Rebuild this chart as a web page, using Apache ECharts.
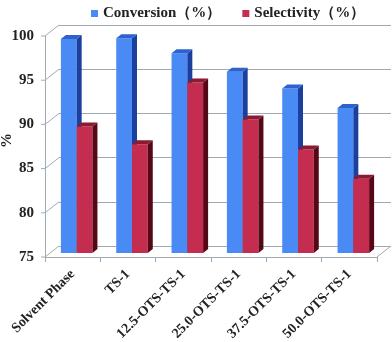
<!DOCTYPE html>
<html>
<head>
<meta charset="utf-8"/>
<title>Conversion / Selectivity</title>
<script src="https://cdn.jsdelivr.net/npm/echarts@6/dist/echarts.min.js"></script>
<style>
    html, body { margin: 0; padding: 0; background: #fff; }
    #main { width: 392px; height: 342px; }
</style>
</head>
<body>
<div id="main"></div>
<script>
    // 数据
    var categories = ['Solvent Phase', 'TS-1', '12.5-OTS-TS-1', '25.0-OTS-TS-1', '37.5-OTS-TS-1', '50.0-OTS-TS-1'];
    var conversion = [99.2, 99.3, 97.6, 95.5, 93.6, 91.4];
    var selectivity = [89.3, 87.3, 94.3, 90.1, 86.7, 83.4];
    var yTicks = [75, 80, 85, 90, 95, 100];

    var font = "'Liberation Serif', 'Times New Roman', serif";
    var gridColor = '#a0aab2';
    var depthX = 14, depthY = -11;   // 背景墙偏移
    var barDX = 5, barDY = -4;       // 柱子厚度

    // 立体柱子
    function bar3d(dir, frontCol, sideCol, topCol) {
        return function (params, api) {
            var i = api.value(0), v = api.value(1);
            var top = api.coord([i, v]);
            var base = api.coord([i, 75]);
            var bw = api.size([1, 0])[0] * 0.285;
            var x0 = dir < 0 ? top[0] - bw : top[0];
            var x1 = x0 + bw;
            var yt = top[1], yb = base[1];
            return {
                type: 'group',
                children: [
                    {type: 'rect', shape: {x: x0, y: yt, width: bw, height: yb - yt}, style: {fill: frontCol}},
                    {type: 'polygon', shape: {points: [[x1, yt], [x1 + barDX, yt + barDY], [x1 + barDX, yb + barDY], [x1, yb]]}, style: {fill: sideCol}},
                    {type: 'polygon', shape: {points: [[x0, yt], [x0 + barDX, yt + barDY], [x1 + barDX, yt + barDY], [x1, yt]]}, style: {fill: topCol}}
                ]
            };
        };
    }

    // 侧墙网格线和地板右边
    function sideLines(params, api) {
        var v = api.value(0);
        var cs = params.coordSys;
        var y = api.coord([0, v])[1];
        var children = [{
            type: 'polyline',
            shape: {points: [[cs.x - 4, y], [cs.x, y], [cs.x + depthX, y + depthY]]},
            style: {stroke: gridColor, lineWidth: 1, fill: null}
        }];
        if (v === 75) {
            children.push({
                type: 'line',
                shape: {x1: cs.x + cs.width, y1: y, x2: cs.x + cs.width + depthX, y2: y + depthY},
                style: {stroke: gridColor, lineWidth: 1}
            });
        }
        return {type: 'group', children: children};
    }

    var myChart = echarts.init(document.getElementById('main'));
    var option = {
        animation: false,
        backgroundColor: '#fff',
        legend: {
            top: 1,
            left: 86,
            icon: 'rect',
            itemWidth: 7,
            itemHeight: 7,
            itemGap: 21,
            textStyle: {fontFamily: font, fontWeight: 'bold', fontSize: 15, color: '#222'},
            data: ['Conversion（%）', 'Selectivity（%）']
        },
        grid: [
            {left: 45, right: 15, top: 36, bottom: 85, outerBoundsMode: 'none'},
            {left: 45 + depthX, right: 15 - depthX, top: 36 + depthY, bottom: 85 - depthY, outerBoundsMode: 'none'},
            {left: 49, right: 11, top: 32, bottom: 89, outerBoundsMode: 'none'}
        ],
        xAxis: [
            {
                gridIndex: 0, type: 'category', data: categories,
                axisLine: {lineStyle: {color: gridColor}},
                axisTick: {show: true, length: 5, interval: 0, lineStyle: {color: gridColor}},
                axisLabel: {
                    interval: 0, rotate: 45, margin: 15,
                    fontFamily: font, fontWeight: 'bold', fontSize: 14, color: '#222'
                }
            },
            {gridIndex: 1, type: 'category', data: categories, show: false},
            {gridIndex: 2, type: 'category', data: categories, show: false}
        ],
        yAxis: [
            {
                gridIndex: 0, type: 'value', min: 75, max: 100, interval: 5,
                name: '%', nameLocation: 'middle', nameGap: 30, nameRotate: 90, nameMoveOverlap: false,
                nameTextStyle: {fontFamily: font, fontWeight: 'bold', fontSize: 15, color: '#222', padding: [0, 0, 0, 12]},
                axisLine: {show: true, lineStyle: {color: gridColor}},
                axisTick: {show: false},
                splitLine: {show: false},
                axisLabel: {margin: 11, fontFamily: font, fontWeight: 'bold', fontSize: 15, color: '#222'}
            },
            {
                gridIndex: 1, type: 'value', min: 75, max: 100, interval: 5,
                axisLine: {show: false}, axisTick: {show: false}, axisLabel: {show: false},
                splitLine: {show: true, lineStyle: {color: gridColor, width: 1}}
            },
            {gridIndex: 2, type: 'value', min: 75, max: 100, interval: 5, show: false, splitLine: {show: false}}
        ],
        series: [
            {
                type: 'custom', xAxisIndex: 0, yAxisIndex: 0,
                renderItem: sideLines, silent: true,
                data: yTicks.map(function (v) { return [v]; }),
                encode: {y: 0}
            },
            {
                name: 'Conversion（%）', type: 'custom', xAxisIndex: 2, yAxisIndex: 2,
                itemStyle: {color: '#4a8af4'},
                renderItem: bar3d(-1, '#4a8af4', '#1a3f9e', '#2e62cf'),
                data: conversion.map(function (v, i) { return [i, v]; }),
                encode: {x: 0, y: 1}
            },
            {
                name: 'Selectivity（%）', type: 'custom', xAxisIndex: 2, yAxisIndex: 2,
                itemStyle: {color: '#c42c50'},
                renderItem: bar3d(1, '#c42c50', '#560816', '#8c1a30'),
                data: selectivity.map(function (v, i) { return [i, v]; }),
                encode: {x: 0, y: 1}
            }
        ]
    };
    myChart.setOption(option);
</script>
</body>
</html>
